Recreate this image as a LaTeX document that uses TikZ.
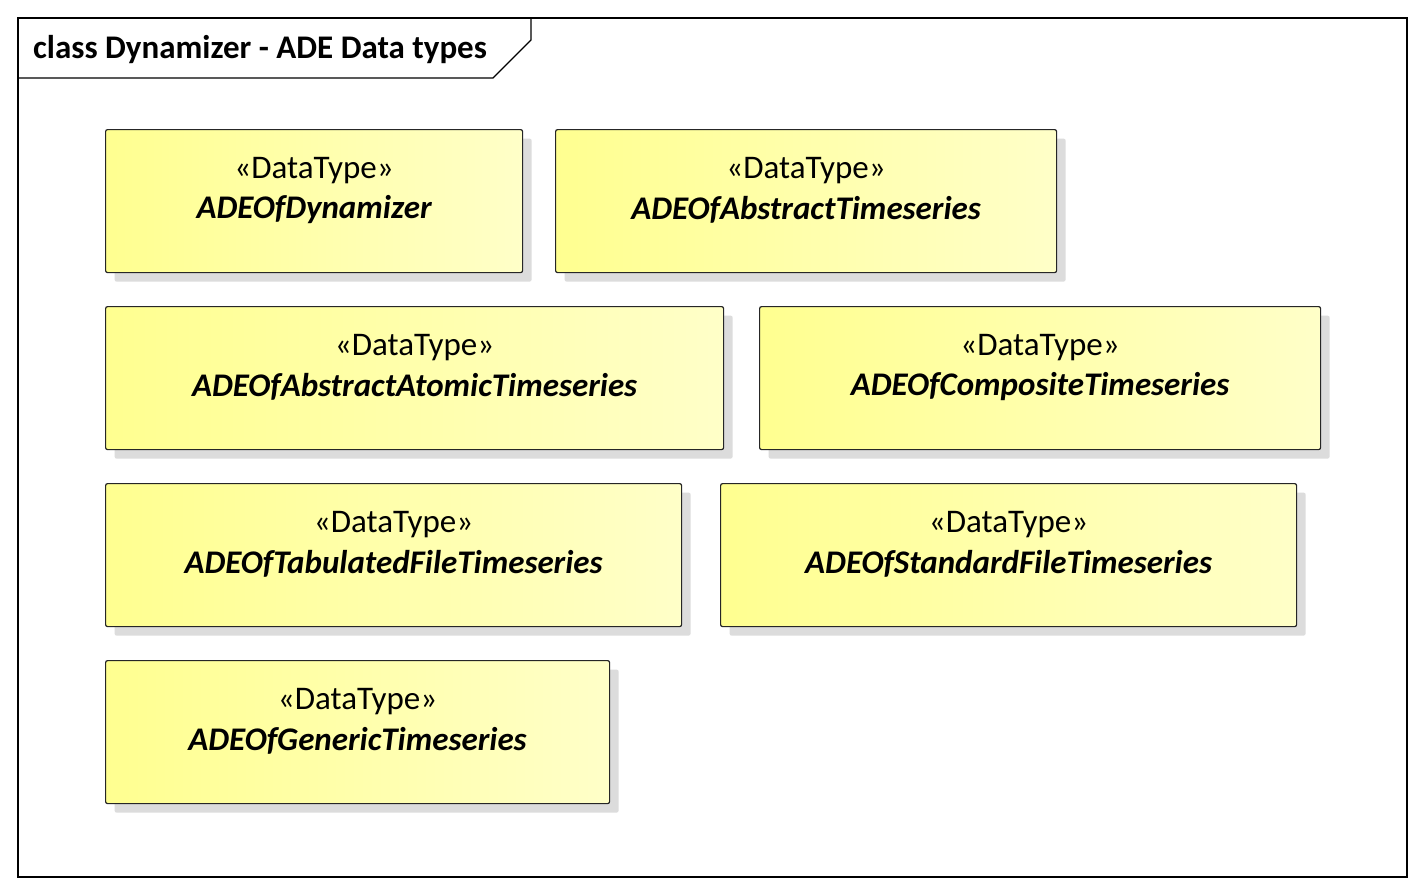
\documentclass[tikz,border=0pt]{standalone}
\usepackage{fontspec}
\setmainfont{Carlito}
\usetikzlibrary{shadows}
\definecolor{yleft}{HTML}{FFFF90}
\definecolor{yright}{HTML}{FFFFC8}
\definecolor{shadowgrey}{HTML}{DCDCDC}
\tikzset{
  umlbox/.style={draw=black!85, line width=1.2pt, rounded corners=2pt, anchor=north west,
    left color=yleft, right color=yright, minimum height=143pt, inner sep=0pt,
    drop shadow={shadow xshift=9pt, shadow yshift=-9pt, fill=shadowgrey, opacity=1}},
  stereo/.style={font=\fontsize{33}{38}\selectfont, inner sep=0pt},
  clsname/.style={font=\fontsize{33}{38}\selectfont\bfseries\itshape, inner sep=0pt},
  frameline/.style={draw=black, line width=1.2pt}
}
\newcommand{\umlclass}[5]{%
  \node[umlbox, minimum width=#4pt] (#1) at (#2,#3) {};
  \node[stereo] (#1s) at ([yshift=-42pt]#1.north) {«DataType»};
  \node[clsname] (#1n) at ([yshift=-81pt]#1.north) {#5};
}
\begin{document}
\begin{tikzpicture}[x=1pt,y=-1pt]
\useasboundingbox (0,0) rectangle (1425,894);
\fill[white] (0,0) rectangle (1425,894);
\draw[frameline] (18,18) rectangle (1407,877);
\coordinate (t1) at (18,78);
\coordinate (t2) at (493,78);
\coordinate (t3) at (531,40);
\coordinate (t4) at (531,18);
\draw[frameline] (t1) -- (t2) -- (t3) -- (t4);
\node[anchor=west, inner sep=0pt, font=\fontsize{33}{38}\selectfont\bfseries] (title) at (33,50) {class Dynamizer - ADE Data types};
\umlclass{c1}{105}{129}{417}{ADEOfDynamizer}
\umlclass{c2}{555}{129}{501}{ADEOfAbstractTimeseries}
\umlclass{c3}{105}{306}{618}{ADEOfAbstractAtomicTimeseries}
\umlclass{c4}{759}{306}{561}{ADEOfCompositeTimeseries}
\umlclass{c5}{105}{483}{576}{ADEOfTabulatedFileTimeseries}
\umlclass{c6}{720}{483}{576}{ADEOfStandardFileTimeseries}
\umlclass{c7}{105}{660}{504}{ADEOfGenericTimeseries}
\end{tikzpicture}
\end{document}
